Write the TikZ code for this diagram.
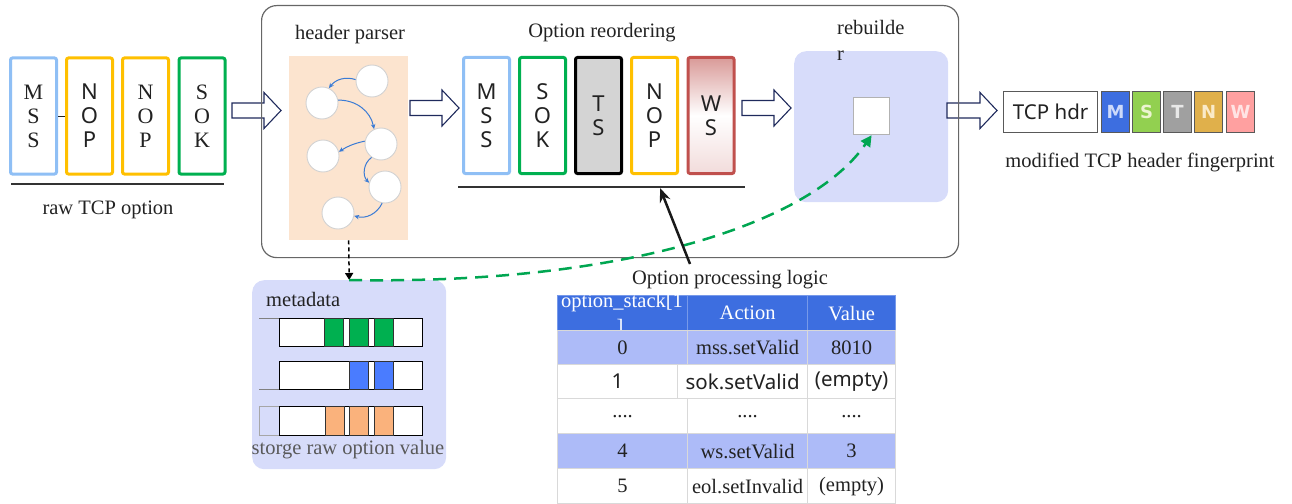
\documentclass[tikz,border=0pt]{standalone}
\usepackage{fontspec}
\setmainfont{Liberation Serif}
\newfontfamily\sansf{Noto Sans}
\newfontfamily\sansbf{DejaVu Sans}
\usetikzlibrary{arrows.meta,calc}
\definecolor{cMSS}{HTML}{8FBFF5}
\definecolor{cNOP}{HTML}{FFC000}
\definecolor{cSOK}{HTML}{00B050}
\definecolor{cWS}{HTML}{C0504D}
\definecolor{cWStop}{HTML}{D99A98}
\definecolor{cTS}{HTML}{D4D4D4}
\definecolor{peach}{HTML}{FCE4CF}
\definecolor{lav}{HTML}{D7DCFA}
\definecolor{thead}{HTML}{3D6EE0}
\definecolor{trow}{HTML}{ADBBF8}
\definecolor{arrowc}{HTML}{1F2A5C}
\definecolor{gdash}{HTML}{00A651}
\definecolor{cblue}{HTML}{3A7BD5}
\definecolor{mgreen}{HTML}{00B050}
\definecolor{mblue}{HTML}{4A7CFF}
\definecolor{morange}{HTML}{FAB27C}
\definecolor{txt}{HTML}{222222}
\newcommand\lblfont{\fontsize{20.5}{24}\selectfont}
\newcommand\boxserif{\fontsize{22}{24}\selectfont}
\newcommand\boxsans{\sansf\fontsize{22}{24}\selectfont}
\newcommand\hollowarrow[3]{\draw[harrow,shift={(#1,#3)}] (0,-7.5) -- ({#2-#1-17},-7.5) -- ({#2-#1-17},-18) -- ({#2-#1},0) -- ({#2-#1-17},18) -- ({#2-#1-17},7.5) -- (0,7.5) -- cycle;}
\begin{document}
\begin{tikzpicture}[x=1pt,y=-1pt,
  optbox/.style={draw, line width=3pt, rounded corners=2pt, minimum width=46pt, minimum height=116pt, inner sep=0pt, fill=white, align=center, text=txt},
  harrow/.style={draw=arrowc, line width=1.1pt, fill=white, line join=miter},
  lbl/.style={font=\lblfont, text=txt, inner sep=0pt},
  circ/.style={circle, fill=white, draw=gray!35, line width=0.9pt, minimum size=32pt, inner sep=0pt},
  barrow/.style={draw=cblue, line width=1pt, -{Stealth[length=5pt,width=4.5pt]}},
  tcell/.style={draw=gray!30, line width=1.2pt, inner sep=0pt, anchor=north west, text=txt, font=\lblfont},
  fp/.style={draw=gray!70!black, line width=1.2pt, inner sep=0pt, anchor=north west, minimum height=41pt, font=\sansbf\bfseries\fontsize{18}{22}\selectfont},
  mbar/.style={draw=black, line width=0.8pt, fill=white},
  mseg/.style={draw=black!80, line width=0.8pt}
]
\useasboundingbox (0,0) rectangle (1292,503);

% ---- raw TCP option ----
\node[optbox, draw=cMSS, font=\boxserif] (mss1) at (33.5,116) {M\\S\\S};
\node[optbox, draw=cNOP, font=\boxsans] (nop1) at (89.5,116) {N\\O\\P};
\node[optbox, draw=cNOP, font=\boxserif] (nop2) at (145.5,116) {N\\O\\P};
\node[optbox, draw=cSOK, font=\boxserif] (sok1) at (202,116) {S\\O\\K};
\draw[line width=1pt, txt] (mss1.east) -- (nop1.west);
\coordinate (rl1) at (11,184); \coordinate (rl2) at (224,184);
\draw[gray!40!black, line width=1.2pt] (rl1) -- (rl2);
\node[lbl] (rawlbl) at (108,210) {raw TCP option};

% ---- header parser ----
\node[fill=peach, anchor=north west, minimum width=119pt, minimum height=184pt, inner sep=0pt] (parser) at (289,56) {};
\node[circ] (c1) at (372,81) {};
\node[circ] (c2) at (322,103) {};
\node[circ] (c3) at (381,144) {};
\node[circ] (c4) at (323,156) {};
\node[circ] (c5) at (385,187) {};
\node[circ] (c6) at (338,213) {};
\draw[barrow] (c1.175) to[bend right=35] (c2.65);
\draw[barrow] (c2.10) to[bend left=40] (c3.115);
\draw[barrow] (c3.170) to[bend right=10] (c4.15);
\draw[barrow] (c3.235) to[bend right=50] (c5.165);
\draw[barrow] (c5.260) to[bend left=40] (c6.350);
\node[lbl] (hplbl) at (350,35) {header parser};

% ---- option reordering ----
\node[optbox, draw=cMSS, font=\boxsans] (mss2) at (486.5,115.5) {M\\S\\S};
\node[optbox, draw=cSOK, font=\boxsans] (sok2) at (542.5,115.5) {S\\O\\K};
\node[optbox, draw=black, fill=cTS, font=\boxsans] (ts2) at (598.5,115.5) {T\\S};
\node[optbox, draw=cNOP, font=\boxsans] (nop3) at (654.5,115.5) {N\\O\\P};
\node[optbox, draw=cWS, top color=cWStop, bottom color=cWStop!35, middle color=white, font=\boxsans] (ws2) at (711,115.5) {W\\S};
\coordinate (ol1) at (458,187); \coordinate (ol2) at (745,187);
\draw[gray!40!black, line width=1.2pt] (ol1) -- (ol2);
\node[lbl] (orlbl) at (602,33) {Option reordering};

% ---- rebuilder ----
\node[fill=lav, rounded corners=12pt, anchor=north west, minimum width=154pt, minimum height=151pt, inner sep=0pt] (rb) at (794,51) {};
\node[fill=white, draw=gray!60, line width=1.2pt, anchor=north west, minimum width=36pt, minimum height=37pt, inner sep=0pt] (rsq) at (853,97) {};
\node[lbl, anchor=base west] (rbl1) at (837,35) {rebuilde};
\node[lbl, anchor=base west] (rbl2) at (837,60) {r};

% ---- metadata ----
\node[fill=lav, rounded corners=12pt, anchor=north west, minimum width=194pt, minimum height=189pt, inner sep=0pt] (meta) at (252,280) {};
\node[lbl, anchor=west] (metalbl) at (266,299) {metadata};
% row 1
\draw[gray, line width=0.8pt] (259,318) -- (279,318);
\draw[mbar] (279,318) rectangle (422,346);
\foreach \a in {324,349,374} {\draw[mseg, fill=mgreen] (\a,318) rectangle ({\a+19},346);}
% row 2
\draw[gray, line width=0.8pt] (259,389) -- (279,389);
\draw[mbar] (279,361) rectangle (422,389);
\foreach \a in {349,374} {\draw[mseg, fill=mblue] (\a,361) rectangle ({\a+19},389);}
% row 3
\draw[gray!70, line width=0.8pt] (259,406) rectangle (279,435);
\draw[mbar] (279,406) rectangle (422,435);
\foreach \a in {325,349,374} {\draw[mseg, fill=morange] (\a,406) rectangle ({\a+19},435);}
\node[lbl, text=black!65] (storelbl) at (348,450) {storge raw option value};

% ---- hollow arrows ----
\hollowarrow{232}{281}{110.5}
\hollowarrow{410}{459}{108}
\hollowarrow{742}{791}{108}
\hollowarrow{947}{997}{110.5}

% ---- main frame ----
\node[draw=black!60, line width=1.2pt, rounded corners=15pt, anchor=north west, minimum width=697pt, minimum height=252pt, inner sep=0pt] (main) at (261,5) {};

% ---- output fingerprint ----
\node[fp, fill=white, minimum width=94pt, font=\sansf\fontsize{20.5}{22}\selectfont, text=txt] (tcphdr) at (1003,91) {TCP hdr};
\node[fp, fill=thead, minimum width=28pt, text={rgb,255:red,205;green,218;blue,250}] (fm) at (1101,91) {M};
\node[fp, fill={rgb,255:red,146;green,208;blue,80}, minimum width=28pt, text={rgb,255:red,236;green,244;blue,208}] (fs) at (1132,91) {S};
\node[fp, fill={rgb,255:red,160;green,160;blue,160}, minimum width=28pt, text={rgb,255:red,232;green,232;blue,232}] (ft) at (1163,91) {T};
\node[fp, fill={rgb,255:red,224;green,176;blue,75}, minimum width=28pt, text={rgb,255:red,250;green,234;blue,200}] (fn) at (1194,91) {N};
\node[fp, fill={rgb,255:red,255;green,160;blue,160}, minimum width=28pt, text={rgb,255:red,255;green,228;blue,228}] (fw) at (1226,91) {W};
\node[lbl] (modlbl) at (1140,162) {modified TCP header fingerprint};

% ---- table ----
\node[lbl] (oplogic) at (730,280) {Option processing logic};
\node[tcell, fill=thead, minimum width=130pt, minimum height=35pt, draw=thead!70!white] (h1) at (557,295) {};
\begin{scope}
\clip (557,295) rectangle (687,330);
\node[lbl, text=white, anchor=base] (h1a) at (622,307) {option\_stack[1};
\node[lbl, text=white, anchor=base] (h1b) at (620,333) {]};
\end{scope}
\node[tcell, fill=thead, draw=thead!70!white, minimum width=120pt, minimum height=35pt, text=white] (h2) at (687,295) {Action};
\node[tcell, fill=thead, draw=thead!70!white, minimum width=88pt, minimum height=35pt, text=white] (h3) at (807,295) {Value};
\node[tcell, fill=trow, minimum width=130pt, minimum height=34pt] (r0a) at (557,330) {0};
\node[tcell, fill=trow, minimum width=120pt, minimum height=34pt] (r0b) at (687,330) {mss.setValid};
\node[tcell, fill=trow, minimum width=88pt, minimum height=34pt] (r0c) at (807,330) {8010};
\node[tcell, fill=white, minimum width=120pt, minimum height=34pt, font=\sansf\fontsize{20.5}{22}\selectfont] (r1a) at (557,364) {1};
\node[tcell, fill=white, minimum width=130pt, minimum height=34pt, font=\sansf\fontsize{20.5}{22}\selectfont] (r1b) at (677,364) {sok.setValid};
\node[tcell, fill=white, minimum width=88pt, minimum height=34pt, font=\sansf\fontsize{20.5}{22}\selectfont] (r1c) at (807,364) {(empty)};
\node[tcell, fill=white, minimum width=130pt, minimum height=35pt] (r2a) at (557,398) {....};
\node[tcell, fill=white, minimum width=120pt, minimum height=35pt] (r2b) at (687,398) {....};
\node[tcell, fill=white, minimum width=88pt, minimum height=35pt] (r2c) at (807,398) {....};
\node[tcell, fill=trow, minimum width=130pt, minimum height=35pt] (r3a) at (557,433) {4};
\node[tcell, fill=trow, minimum width=120pt, minimum height=35pt] (r3b) at (687,433) {ws.setValid};
\node[tcell, fill=trow, minimum width=88pt, minimum height=35pt] (r3c) at (807,433) {3};
\node[tcell, fill=white, minimum width=130pt, minimum height=35pt] (r4a) at (557,468) {5};
\node[tcell, fill=white, minimum width=120pt, minimum height=35pt] (r4b) at (687,468) {eol.setInvalid};
\node[tcell, fill=white, minimum width=88pt, minimum height=35pt] (r4c) at (807,468) {(empty)};

% ---- connectors ----
\draw[black, line width=1.5pt, dash pattern=on 4pt off 3pt, -{Triangle[length=7pt,width=8pt]}] (parser.south) -- (meta.north);
\draw[gdash, line width=2.5pt, dash pattern=on 13pt off 8pt, -{Triangle[length=11pt,width=11pt]}] (meta.north) .. controls (620,285) and (810,225) .. (rsq.south);
\coordinate (opls) at (690,264);
\coordinate (oplt) at (660,188);
\draw[black!90, line width=2.5pt, -{Stealth[length=14pt,width=11pt]}] (opls) -- (oplt);
\end{tikzpicture}
\end{document}
